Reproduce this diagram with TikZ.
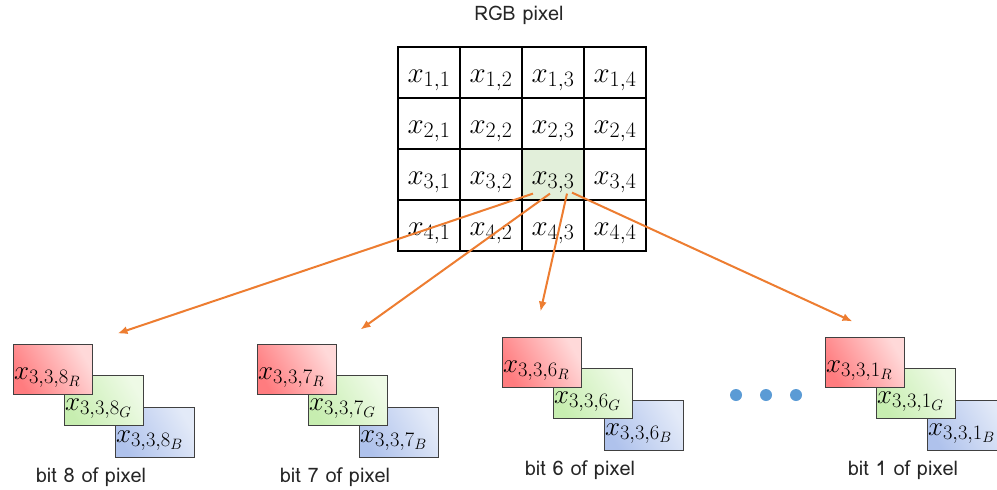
\RequirePackage{fix-cm}
\documentclass[tikz,border=0pt]{standalone}
\usepackage{fontspec}
\setmainfont{Loma}
\usetikzlibrary{shapes,arrows,arrows.meta,calc}
\DeclareMathSizes{29}{29}{22}{16}
\DeclareMathSizes{27}{27}{20.5}{15}
\definecolor{arrorange}{HTML}{ED7D31}
\definecolor{cellgreen}{HTML}{E2EFDA}
\definecolor{dotblue}{HTML}{5B9BD5}
\definecolor{redA}{HTML}{FF7C7F}
\definecolor{redB}{HTML}{FFD9D9}
\definecolor{greenA}{HTML}{C7EEB0}
\definecolor{greenB}{HTML}{EEFAE6}
\definecolor{blueA}{HTML}{AFC2EC}
\definecolor{blueB}{HTML}{E3EAF8}
\tikzstyle{cell} = [draw, line width=1.2pt, rectangle, minimum width=62pt, minimum height=51pt, inner sep=0pt, text height=22pt, text depth=3pt, font=\fontsize{29}{33}\selectfont]
\tikzstyle{bitbox} = [draw=black!75, line width=1pt, rectangle, minimum width=79pt, minimum height=50pt, text width=77pt, align=left, inner sep=1pt, text height=22pt, text depth=2pt, font=\fontsize{27}{31}\selectfont]
\tikzstyle{redbox} = [bitbox, left color=redA, right color=redB, shading angle=120]
\tikzstyle{greenbox} = [bitbox, left color=greenA, right color=greenB, shading angle=120]
\tikzstyle{bluebox} = [bitbox, left color=blueA, right color=blueB, shading angle=120]
\tikzstyle{line} = [draw=arrorange, line width=2pt, -{Latex[length=10pt,width=8pt]}]
\tikzstyle{caption} = [font=\fontsize{20}{24}\selectfont, text=black!85]
\tikzstyle{dot} = [circle, fill=dotblue, minimum size=12pt, inner sep=0pt]

\begin{document}
\begin{tikzpicture}[x=1pt, y=-1pt]
    \useasboundingbox (0,0) rectangle (997,490);
    \node[caption] (title) at (519,15) {RGB pixel};
    % the 4x4 pixel grid
    \foreach \r in {1,...,4}
        \foreach \c in {1,...,4} {
            \ifnum\r\c=33 \def\cf{cellgreen}\else\def\cf{white}\fi
            \node[cell, fill=\cf] (c\r\c) at ({398+62*(\c-0.5)}, {47+51*(\r-0.5)}) {$x_{\r,\c}$};
        }
    % bit planes
    \foreach \b/\x/\y in {8/13/344, 7/257/344, 6/502/337, 1/825/337} {
        \node[bluebox] (b\b) at (\x+141.5, \y+88) {$x_{3,3,\b_B}$};
        \node[greenbox] (g\b) at (\x+90.5, \y+56.5) {$x_{3,3,\b_G}$};
        \node[redbox] (r\b) at (\x+39.5, \y+25) {$x_{3,3,\b_R}$};
        \node[caption] (cap\b) at (\x+78, \y+133) {bit \b\ of pixel};
    }
    \node[dot] (d1) at (736,395) {};
    \node[dot] (d2) at (766,395) {};
    \node[dot] (d3) at (796,395) {};
    % arrows out of x_{3,3}
    \coordinate (s8) at ($(c33.south)+(-20,-7)$);
    \coordinate (s7) at ($(c33.south)+(-3,-7)$);
    \coordinate (s6) at ($(c33.south)+(14,-7)$);
    \coordinate (s1) at ($(c33.south)+(19,-8)$);
    \coordinate (e8) at ($(r8.north east)+(25,-10)$);
    \coordinate (e7) at ($(r7.north east)+(24,-14)$);
    \coordinate (e6) at ($(r6.north)+(-1,-25)$);
    \coordinate (e1) at ($(r1.north)+(-12,-15)$);
    \path[line] (s8) -- (e8);
    \path[line] (s7) -- (e7);
    \path[line] (s6) -- (e6);
    \path[line] (s1) -- (e1);
\end{tikzpicture}
\end{document}
